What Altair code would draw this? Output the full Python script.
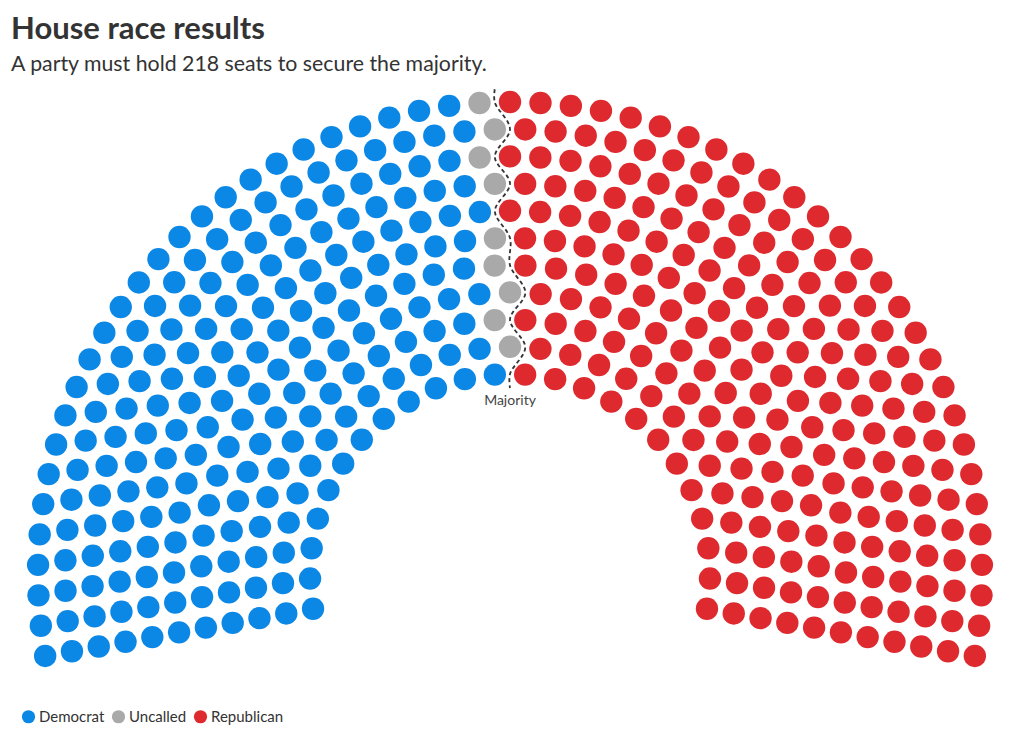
import numpy as np
import pandas as pd
import altair as alt

# ---- data ----
parties = ["Democrat", "Uncalled", "Republican"]
seat_counts = [208, 9, 218]
party_colors = ["#0b87e6", "#a9a9a9", "#de2a2e"]
row_seats = [24, 27, 30, 33, 36, 40, 43, 46, 49, 52, 55]
title_text = "House race results"
subtitle_text = "A party must hold 218 seats to secure the majority."
majority_label = "Majority"

# ---- hemicycle layout (page pixel units) ----
CX, CY = 510.0, 574.0
R_INNER, ROW_GAP = 200.0, 27.2
A_START, A_SPAN = -10.0, 200.0
PLOT_TOP = 82.0
W, H = 1004, 649

recs = []
for i, n in enumerate(row_seats):
    r = R_INNER + i * ROW_GAP
    for j in range(n):
        a = A_START + A_SPAN * j / (n - 1)
        recs.append((i, r, round(a, 9)))
seats = pd.DataFrame(recs, columns=["row", "r", "angle"])
seats = seats.sort_values(["angle", "r"], ascending=[False, True]).reset_index(drop=True)
seats["party"] = np.repeat(parties, seat_counts)
rad = np.deg2rad(seats["angle"].to_numpy())
seats["x"] = CX + seats["r"] * np.cos(rad)
seats["y"] = CY - seats["r"] * np.sin(rad)

# majority boundary: between last non-Republican and first Republican seat of each row
pts = []
for i in range(len(row_seats)):
    rs = seats[seats["row"] == i]
    a_left = rs.loc[rs["party"] != "Republican", "angle"].min()
    a_right = rs.loc[rs["party"] == "Republican", "angle"].max()
    mid = np.deg2rad((a_left + a_right) / 2)
    r = R_INNER + i * ROW_GAP
    pts.append((CX + r * np.cos(mid), CY - r * np.sin(mid)))
pts.sort(key=lambda p: p[1])
top = (pts[0][0], pts[0][1] - 13)
bottom = (pts[-1][0], pts[-1][1] + 14)
line_df = pd.DataFrame([top] + pts + [bottom], columns=["x", "y"])
label_df = pd.DataFrame({"x": [bottom[0]], "y": [bottom[1] + 13], "label": [majority_label]})

xs = alt.Scale(domain=[8, 8 + W], nice=False, zero=False)
ys = alt.Scale(domain=[PLOT_TOP, PLOT_TOP + H], reverse=True, nice=False, zero=False)

dots = alt.Chart(seats).mark_circle(size=500, opacity=1).encode(
    x=alt.X("x:Q", scale=xs, axis=None),
    y=alt.Y("y:Q", scale=ys, axis=None),
    color=alt.Color(
        "party:N",
        scale=alt.Scale(domain=parties, range=party_colors),
        legend=alt.Legend(
            title=None, orient="none", legendX=13, legendY=627,
            direction="horizontal", symbolType="circle", symbolSize=175,
            symbolStrokeWidth=0, symbolOpacity=1, labelFontSize=15,
            labelFont="Lato", labelColor="#333333", labelOffset=3,
            columnPadding=6, padding=0,
        ),
    ),
)

line = alt.Chart(line_df).mark_line(
    color="#333333", strokeWidth=1.8, strokeDash=[4, 3], interpolate="catmull-rom"
).encode(
    x=alt.X("x:Q", scale=xs, axis=None),
    y=alt.Y("y:Q", scale=ys, axis=None),
    order=alt.Order("y:Q"),
)

label = alt.Chart(label_df).mark_text(
    font="Lato", fontSize=14, color="#444444", align="center", baseline="middle"
).encode(
    x=alt.X("x:Q", scale=xs, axis=None),
    y=alt.Y("y:Q", scale=ys, axis=None),
    text="label:N",
)

chart = alt.layer(dots, line, label).properties(
    width=W,
    height=H,
    autosize=alt.AutoSizeParams(type="none"),
    padding={"left": 0, "top": PLOT_TOP - 8, "right": 0, "bottom": 0},
    title=alt.TitleParams(
        text=title_text, subtitle=subtitle_text, anchor="start",
        font="Lato", fontSize=31, fontWeight="bold", color="#333333",
        subtitleFont="Lato", subtitleFontSize=21.3, subtitleColor="#333333",
        subtitlePadding=8, offset=6, dx=3,
    ),
).configure(background="white").configure_view(strokeWidth=0, stroke="transparent")

chart.save("out.html", embed_options={"renderer": "svg", "actions": False})
